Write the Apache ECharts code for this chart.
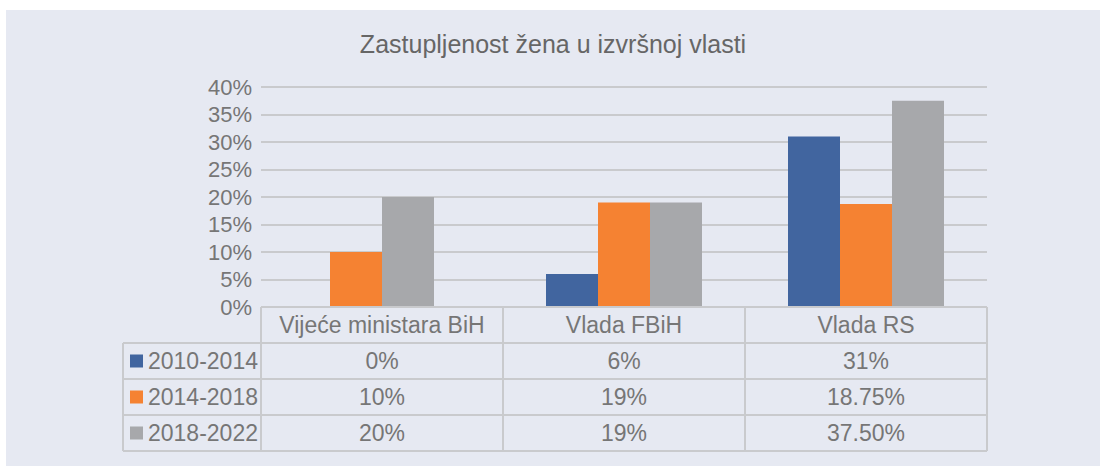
<!DOCTYPE html>
<html>
<head>
<meta charset="utf-8">
<script src="https://cdn.jsdelivr.net/npm/echarts@6/dist/echarts.min.js"></script>
<style>
  html, body { margin: 0; padding: 0; background: #ffffff; }
  #chart { position: absolute; left: 6px; top: 10px; width: 1094px; height: 456px; }
</style>
</head>
<body>
<div id="chart"></div>
<script>
// data
const categories = ['Vijeće ministara BiH', 'Vlada FBiH', 'Vlada RS'];
const periods = ['2010-2014', '2014-2018', '2018-2022'];
const values2010 = [0, 6, 31];
const values2014 = [10, 19, 18.75];
const values2018 = [20, 19, 37.5];
// the data table shows them formatted like this
const labels2010 = ['0%', '6%', '31%'];
const labels2014 = ['10%', '19%', '18.75%'];
const labels2018 = ['20%', '19%', '37.50%'];
const colors = ['#41659f', '#f58232', '#a7a8ab'];

const FONT = "'Liberation Sans', Arial, Helvetica, sans-serif";
const TEXT = '#767676';
const LINE = '#c9cacd';
const BAR_W = 52;

let chart = echarts.init(document.getElementById('chart'), null, {renderer: 'svg'});

const seriesValues = [values2010, values2014, values2018];
const tableLabels = [labels2010, labels2014, labels2018];

// a category where some period is 0 gets its remaining bars centred (as in the original),
// those go on a hidden twin axis so they get their own bar layout
const shortCat = categories.map((c, i) => seriesValues.some(v => v[i] === 0));

let series = [];
periods.forEach((p, s) => {
    series.push({
        name: p, type: 'bar', xAxisIndex: 0,
        data: seriesValues[s].map((v, i) => shortCat[i] ? '-' : v),
        barGap: 0, barWidth: BAR_W,
        itemStyle: {color: colors[s]}
    });
});
periods.forEach((p, s) => {
    if (!seriesValues[s].some((v, i) => shortCat[i] && v !== 0)) return;
    series.push({
        name: p, type: 'bar', xAxisIndex: 1,
        data: seriesValues[s].map((v, i) => shortCat[i] ? v : '-'),
        barGap: 0, barWidth: BAR_W,
        itemStyle: {color: colors[s]}
    });
});

const hiddenCat = {
    type: 'category',
    data: categories,
    axisLine: {show: false},
    axisTick: {show: false},
    axisLabel: {show: false},
    splitLine: {show: false}
};

let option = {
    backgroundColor: '#e6e9f2',
    animation: false,
    title: {
        text: 'Zastupljenost žena u izvršnoj vlasti',
        left: 'center',
        top: 16,
        textStyle: {fontFamily: FONT, fontSize: 25, fontWeight: 'normal', color: '#666666'}
    },
    grid: {left: 255, right: 113, top: 77, bottom: 159, containLabel: false},
    xAxis: [hiddenCat, Object.assign({}, hiddenCat, {position: 'bottom'})],
    yAxis: {
        type: 'value',
        min: 0,
        max: 40,
        interval: 5,
        axisLine: {show: false},
        axisTick: {show: false},
        axisLabel: {formatter: '{value}%', fontFamily: FONT, fontSize: 22, color: TEXT, margin: 9},
        splitLine: {lineStyle: {color: LINE, width: 2}}
    },
    series: series
};
chart.setOption(option);

// data table under the plot, columns follow the category axis
function buildTable(){
    const rowH = 36;
    const legendW = 138;
    const c0 = chart.convertToPixel({xAxisIndex: 0}, categories[0]);
    const c1 = chart.convertToPixel({xAxisIndex: 0}, categories[1]);
    const half = (c1 - c0) / 2;
    const y0 = chart.convertToPixel({yAxisIndex: 0}, 0);
    const colEdges = categories.map(c => chart.convertToPixel({xAxisIndex: 0}, c) - half);
    colEdges.push(chart.convertToPixel({xAxisIndex: 0}, categories[categories.length - 1]) + half);
    const left = colEdges[0] - legendW;
    const right = colEdges[colEdges.length - 1];
    const bottom = y0 + rowH * (periods.length + 1);

    let els = [];
    const line = (x1, y1, x2, y2) => els.push({
        type: 'line', silent: true, z: 10,
        shape: {x1, y1, x2, y2},
        style: {stroke: LINE, lineWidth: 2}
    });
    const text = (x, y, t, align) => els.push({
        type: 'text', silent: true, z: 11, x, y,
        style: {text: t, fill: TEXT, font: '23px ' + FONT, align: align, verticalAlign: 'middle'}
    });

    line(colEdges[0], y0, right, y0);
    for (let r = 1; r <= periods.length + 1; r++) line(left, y0 + rowH * r, right, y0 + rowH * r);
    colEdges.forEach(x => line(x, y0, x, bottom));
    line(left, y0 + rowH, left, bottom);

    categories.forEach(c => {
        text(chart.convertToPixel({xAxisIndex: 0}, c), y0 + rowH / 2, c, 'center');
    });
    periods.forEach((p, r) => {
        const cy = y0 + rowH * (r + 1) + rowH / 2;
        els.push({
            type: 'rect', silent: true, z: 11,
            shape: {x: left + 7, y: cy - 6.5, width: 13, height: 13},
            style: {fill: colors[r]}
        });
        text(left + 25, cy, p, 'left');
        categories.forEach((c, i) => {
            text(chart.convertToPixel({xAxisIndex: 0}, c), cy, tableLabels[r][i], 'center');
        });
    });
    chart.setOption({graphic: {elements: els}});
}
buildTable();
</script>
</body>
</html>
